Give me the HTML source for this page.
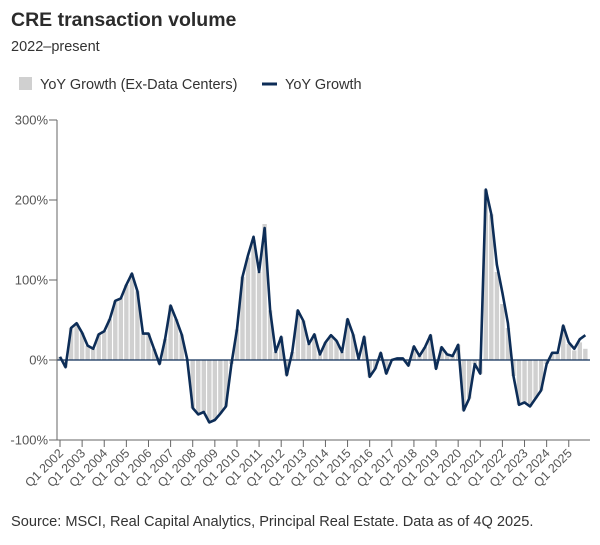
<!DOCTYPE html>
<html><head><meta charset="utf-8"><style>
body{margin:0;background:#fff;font-family:"Liberation Sans",sans-serif;}
#wrap{position:relative;width:600px;height:545px;overflow:hidden;}
</style></head><body>
<div id="wrap">
<svg id="svg" width="600" height="545">
<text x="11" y="26" font-size="19.5" font-weight="bold" fill="#2b2b2b">CRE transaction volume</text>
<text x="11" y="51" font-size="14.5" fill="#333">2022–present</text>
<rect x="19" y="77" width="13" height="13" fill="#d0d0d0"/>
<text x="40" y="89" font-size="14.5" fill="#333">YoY Growth (Ex-Data Centers)</text>
<line x1="262" y1="84" x2="277" y2="84" stroke="#0d2d57" stroke-width="3"/>
<text x="285" y="89" font-size="14.5" fill="#333">YoY Growth</text>
<g id="bars"></g>
<g id="axes"></g>
<text x="11" y="526" font-size="14.6" fill="#333">Source: MSCI, Real Capital Analytics, Principal Real Estate. Data as of 4Q 2025.</text>
</svg>
</div>
<script>
const years = [2002,2003,2004,2005,2006,2007,2008,2009,2010,2011,2012,2013,2014,2015,2016,2017,2018,2019,2020,2021,2022,2023,2024,2025];
const yTicks = [-100,0,100,200,300];
const yoyGrowth = [4,-9,40,46,34,18,14,32,36,51,74,77,94,108,86,33,33,14,-5,26,68,51,32,1,
-60,-68,-65,-78,-75,-67,-58,-5,38,104,131,154,110,165,62,10,29,-19,10,62,49,20,32,7,
22,31,24,10,51,32,1,29,-21,-11,9,-17,0,2,2,-7,17,5,16,31,-11,16,7,5,19,-63,-48,-5,-17,213,
182,119,84,46,-20,-56,-53,-58,-48,-38,-5,9,9,43,22,14,26,31];
const exDataCenters = [4,-9,40,46,34,18,14,32,36,51,74,77,94,108,86,33,33,14,-5,26,68,51,32,1,
-60,-68,-65,-78,-75,-67,-58,-5,38,104,128,150,110,170,62,10,29,-19,10,62,49,20,32,7,
22,31,24,10,51,32,1,29,-21,-11,9,-17,0,2,2,-7,17,5,16,31,-11,16,7,5,19,-63,-48,-5,-17,213,
182,110,70,40,-20,-56,-53,-58,-48,-38,-5,9,9,43,20,12,22,14];

const NS="http://www.w3.org/2000/svg";
const X0=60, QW=5.53, Y0=360, PX=0.8;
const xs=i=>X0+i*QW;
const ys=v=>Y0-v*PX;
const bars=document.getElementById('bars');
const axes=document.getElementById('axes');
function mk(tag,attrs,parent){const e=document.createElementNS(NS,tag);for(const k in attrs)e.setAttribute(k,attrs[k]);parent.appendChild(e);return e;}

exDataCenters.forEach((v,i)=>{
  const y=Math.min(ys(v),Y0), h=Math.abs(ys(v)-Y0);
  const r=mk('rect',{x:xs(i)-2.2,y:y,width:4.4,height:h,fill:'#d0d0d0'},bars);
  
  
});
const z=mk('line',{x1:57,x2:590,y1:Y0,y2:Y0,stroke:'#0d2d57','stroke-width':1.2},axes);


const ya=mk('line',{x1:57,x2:57,y1:ys(300),y2:ys(-100),stroke:'#666','stroke-width':1},axes);


yTicks.forEach(t=>{
  const l=mk('line',{x1:49,x2:57,y1:ys(t),y2:ys(t),stroke:'#666'},axes);
  
  
  const tx=mk('text',{x:48,y:ys(t)+4.5,'text-anchor':'end','font-size':13,fill:'#555'},axes);
  tx.textContent=t+'%';
  
  
});
const xa=mk('line',{x1:57,x2:590,y1:ys(-100),y2:ys(-100),stroke:'#666'},axes);


years.forEach((yr,k)=>{
  const x=xs(k*4);
  const l=mk('line',{x1:x,x2:x,y1:440,y2:447,stroke:'#666'},axes);
  
  
  const tx=mk('text',{x:x+4,y:454,'text-anchor':'end','font-size':12.5,fill:'#555',transform:`rotate(-45 ${x+4} 454)`},axes);
  tx.textContent='Q1 '+yr;
  
  
});
const d=yoyGrowth.map((v,i)=>(i?'L':'M')+xs(i).toFixed(2)+','+ys(v).toFixed(2)).join('');
const p=mk('path',{d:d,fill:'none',stroke:'#0d2d57','stroke-width':2.6,'stroke-linejoin':'round'},axes);


</script>
</body></html>
